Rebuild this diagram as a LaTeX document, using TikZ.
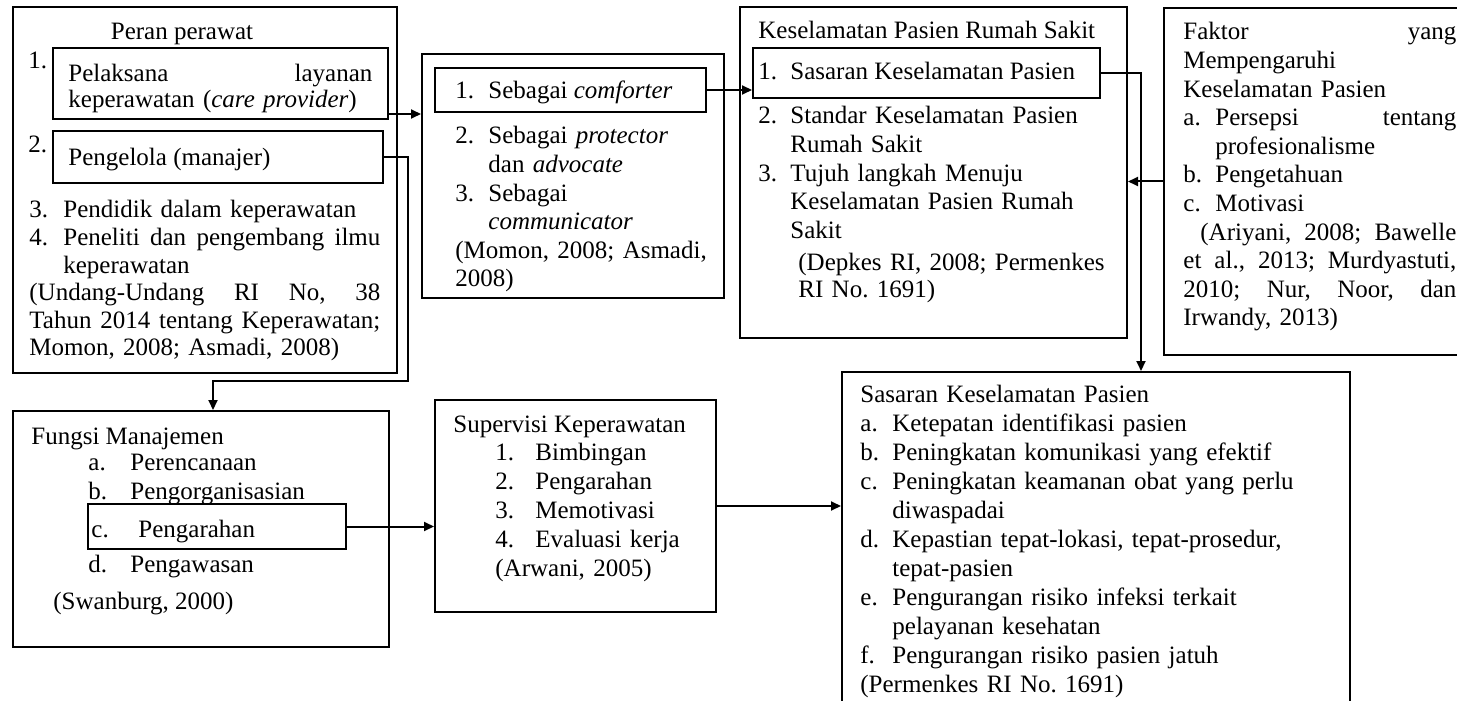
\documentclass[tikz,border=0pt]{standalone}
\usepackage{fontspec}
\setmainfont{Liberation Serif}
\usetikzlibrary{
    fit,
    arrows.meta,
}
\frenchspacing
\newcommand{\lbl}[2][16pt]{\makebox[#1][l]{#2}}
\newcommand{\indt}[1][16pt]{\hspace*{#1}}
\tikzset{
    box/.style={draw, line width=1pt, inner sep=0pt},
    txt/.style={anchor=base west, inner sep=0pt, font=\fontsize{12.5}{14.3}\selectfont},
    blk/.style={txt, align=left, text width=#1},
    arr/.style={line width=1pt, -{Triangle[length=5pt, width=4.5pt]}},
}

\begin{document}
\begin{tikzpicture}[x=0.5pt, y=-0.5pt]
    \useasboundingbox (0,0) rectangle (1457,701);
    \clip (0,0) rectangle (1457,701);

    % ===== PERAN PERAWAT =====
    \node[box, fit={(13,7) (397,373)}] (peran) {};
    \node[txt, anchor=base] (peran_t) at (182,40) {Peran perawat};
    \node[txt] (ppl_n) at (28,69) {1.};
    \node[box, fit={(53,48) (388,119)}] (ppl) {};
    \node[blk=152pt, font=\fontsize{12.5}{13}\selectfont] (ppl_t) at (68,82)
        {Pelaksana\hfill layanan\\ keperawatan (\textit{care provider})};
    \node[txt] (mgr_n) at (28,153) {2.};
    \node[box, fit={(53,131) (383,183)}] (mgr) {};
    \node[txt] (mgr_t) at (68,165) {Pengelola (manajer)};
    \node[blk=175.5pt, font=\fontsize{12.5}{13.8}\selectfont] (peran_l) at (29,218)
        {\lbl[17pt]{3.}Pendidik dalam keperawatan\\
         \lbl[17pt]{4.}Peneliti\hfill dan\hfill pengembang\hfill ilmu\\
         \indt[17pt]keperawatan\\
         (Undang-Undang\hfill RI\hfill No,\hfill 38\\
         Tahun\hfill 2014\hfill tentang\hfill Keperawatan;\\
         Momon, 2008; Asmadi, 2008)};

    % ===== PERAN DALAM KESELAMATAN =====
    \node[box, fit={(422,54) (724,298)}] (roles) {};
    \node[box, fit={(435,68) (706,112)}] (comf) {};
    \node[txt] (comf_t) at (455,99) {\lbl[16.5pt]{1.}Sebagai \textit{comforter}};
    \node[blk=130pt] (roles_l) at (455,144)
        {\lbl[16.5pt]{2.}Sebagai \textit{protector}\\
         \indt[16.5pt]dan \textit{advocate}\\
         \lbl[16.5pt]{3.}Sebagai\\
         \indt[16.5pt]\textit{communicator}\\
         (Momon, 2008; Asmadi,\\
         2008)};

    % ===== KESELAMATAN PASIEN RS =====
    \node[box, fit={(740,7) (1127,338)}] (rs) {};
    \node[txt] (rs_t) at (758,39) {Keselamatan Pasien Rumah Sakit};
    \node[box, fit={(753,48) (1100,98)}] (sas) {};
    \node[txt] (sas_t) at (758,80) {\lbl{1.}Sasaran Keselamatan Pasien};
    \node[blk=170pt] (rs_l) at (758,124)
        {\lbl{2.}Standar Keselamatan Pasien\\
         \indt Rumah Sakit\\
         \lbl{3.}Tujuh langkah Menuju\\
         \indt Keselamatan Pasien Rumah\\
         \indt Sakit};
    \node[blk=160pt, font=\fontsize{12.5}{13.8}\selectfont] (rs_ref) at (798,270)
        {(Depkes RI, 2008; Permenkes\\ RI No. 1691)};

    % ===== FAKTOR =====
    \node[box, fit={(1164,8) (1480,355)}] (faktor) {};
    \node[blk=136.5pt] (faktor_t) at (1183,40)
        {Faktor\hfill yang\\
         Mempengaruhi\\
         Keselamatan Pasien\\
         \lbl{a.}Persepsi\hfill tentang\\
         \indt profesionalisme\\
         \lbl{b.}Pengetahuan\\
         \lbl{c.}Motivasi\\
         \indt[8.5pt](Ariyani,\hfill 2008;\hfill Bawelle\\
         et\hfill al.,\hfill 2013;\hfill Murdyastuti,\\
         2010;\hfill Nur,\hfill Noor,\hfill dan\\
         Irwandy, 2013)};

    % ===== FUNGSI MANAJEMEN =====
    \node[box, fit={(13,411) (389,647)}] (mgmt) {};
    \node[txt] (mgmt_t) at (31,444) {Fungsi Manajemen};
    \node[blk=140pt, font=\fontsize{12.5}{14.5}\selectfont] (mgmt_l) at (88,470)
        {\lbl[21pt]{a.}Perencanaan\\ \lbl[21pt]{b.}Pengorganisasian};
    \node[box, fit={(88,504) (346,549)}] (dir) {};
    \node[txt] (dir_n) at (91,537) {c.};
    \node[txt] (dir_t) at (138,537) {Pengarahan};
    \node[txt] (ctrl) at (88,572) {\lbl[21pt]{d.}Pengawasan};
    \node[txt] (mgmt_ref) at (53,609) {(Swanburg, 2000)};

    % ===== SUPERVISI =====
    \node[box, fit={(435,400) (716,612)}] (sup) {};
    \node[txt] (sup_t) at (453,432) {Supervisi Keperawatan};
    \node[blk=100pt, font=\fontsize{12.5}{14.6}\selectfont] (sup_l) at (495,460)
        {\lbl[20pt]{1.}Bimbingan\\
         \lbl[20pt]{2.}Pengarahan\\
         \lbl[20pt]{3.}Memotivasi\\
         \lbl[20pt]{4.}Evaluasi kerja\\
         (Arwani, 2005)};

    % ===== SASARAN =====
    \node[box, fit={(842,372) (1350,730)}] (goals) {};
    \node[blk=240pt, font=\fontsize{12.5}{14.5}\selectfont] (goals_t) at (860,402)
        {Sasaran Keselamatan Pasien\\
         \lbl{a.}Ketepatan identifikasi pasien\\
         \lbl{b.}Peningkatan komunikasi yang efektif\\
         \lbl{c.}Peningkatan keamanan obat yang perlu\\
         \indt diwaspadai\\
         \lbl{d.}Kepastian tepat-lokasi, tepat-prosedur,\\
         \indt tepat-pasien\\
         \lbl{e.}Pengurangan risiko infeksi terkait\\
         \indt pelayanan kesehatan\\
         \lbl{f.}Pengurangan risiko pasien jatuh\\
         (Permenkes RI No. 1691)};

    % ===== CONNECTIONS =====
    \draw[arr] ([yshift=3pt]ppl.south east) coordinate (a1) -- (a1 -| roles.west);
    \draw[arr] (mgr.east) -- ++(24,0) |- ([xshift=6pt, yshift=14.5pt]mgmt.north) -- ([xshift=6pt]mgmt.north);
    \draw[arr] (comf.east) -- (comf.east -| sas.west);
    \draw[arr] (sas.east) -- ++(40,0) coordinate (a4) -- (a4 |- goals.north);
    \draw[arr] (faktor.west) -- (faktor.west -| rs.east);
    \draw[arr] (dir.east) -- (dir.east -| sup.west);
    \draw[arr] (sup.east) -- (sup.east -| goals.west);

\end{tikzpicture}
\end{document}
